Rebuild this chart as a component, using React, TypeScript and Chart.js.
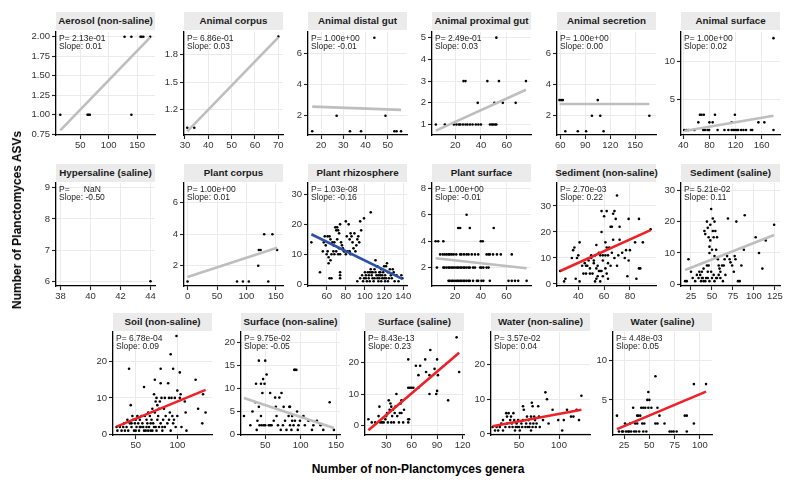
import React, { useEffect, useRef } from "react";
import { Chart, registerables } from "chart.js";

Chart.register(...registerables);

type Pt = [number, number];

// ---------- DATA ----------
const panelTitles = [
  "Aerosol (non-saline)", "Animal corpus", "Animal distal gut", "Animal proximal gut", "Animal secretion", "Animal surface",
  "Hypersaline (saline)", "Plant corpus", "Plant rhizosphere", "Plant surface", "Sediment (non-saline)", "Sediment (saline)",
  "Soil (non-saline)", "Surface (non-saline)", "Surface (saline)", "Water (non-saline)", "Water (saline)",
];

const pValues = [
  "2.13e-01", "6.86e-01", "1.00e+00", "2.49e-01", "1.00e+00", "1.00e+00",
  "     NaN", "1.00e+00", "1.03e-08", "1.00e+00", "2.70e-03", "5.21e-02",
  "6.78e-04", "9.75e-02", "8.43e-13", "3.57e-02", "4.48e-03",
];

const slopes = [
  "0.01", "0.03", "-0.01", "0.03", "0.00", "0.02",
  "-0.50", "0.01", "-0.16", "-0.01", "0.22", "0.11",
  "0.09", "-0.05", "0.23", "0.04", "0.05",
];

const xTickLabels = [
  ["50", "100", "150"], ["30", "40", "50", "60", "70"], ["20", "30", "40", "50"], ["20", "40", "60"], ["60", "90", "120", "150"], ["40", "80", "120", "160"],
  ["38", "40", "42", "44"], ["0", "50", "100", "150"], ["60", "80", "100", "120", "140"], ["20", "40", "60"], ["40", "60", "80"], ["25", "50", "75", "100", "125"],
  ["50", "100"], ["50", "100", "150"], ["30", "60", "90", "120"], ["50", "100"], ["25", "50", "75", "100"],
];

const yTickLabels = [
  ["0.75", "1.00", "1.25", "1.50", "1.75", "2.00"], ["1.2", "1.5", "1.8"], ["2", "4", "6"], ["1", "2", "3", "4", "5"], ["2", "4", "6"], ["5", "10"],
  ["6", "7", "8", "9"], ["2", "4", "6"], ["0", "10", "20", "30"], ["2", "4", "6", "8"], ["0", "10", "20", "30"], ["0", "10", "20", "30"],
  ["0", "10", "20"], ["0", "5", "10", "15", "20"], ["0", "10", "20"], ["0", "10", "20"], ["5", "10"],
];

const xLimits: Pt[] = [
  [7.5, 181.5], [29.6, 72], [14.1, 58.7], [2, 78.9], [56, 175], [36.5, 188],
  [37.7, 44.3], [-6, 162], [40.5, 143.9], [2.2, 78.9], [23.5, 100.2], [13.1, 131],
  [22.7, 141.7], [15.8, 155.6], [5, 121.7], [15, 138.75], [14.1, 111.9],
];

const yLimits: Pt[] = [
  [0.74, 2.06], [0.92, 2.05], [0.76, 7.37], [0.52, 5.26], [0.76, 7.37], [0.35, 13.8],
  [5.85, 9.15], [0.71, 7.25], [-0.57, 33.8], [0.61, 8.4], [-0.77, 38.8], [-0.54, 32.3],
  [-0.2, 28.1], [-0.1, 22.2], [-3, 29.7], [-0.3, 29.4], [0.55, 13.6],
];

const aerosolPts: Pt[] = [[15, 1], [63, 1], [65, 1], [67, 1], [140, 1], [128, 2], [140, 2], [156, 2], [158, 2], [161, 2], [173, 2]];
const aerosolFit: Pt[] = [[15, 0.8], [173, 1.99]];

const animalCorpusPts: Pt[] = [[31, 1], [34, 1], [70, 2]];
const animalCorpusFit: Pt[] = [[31, 0.96], [70, 1.99]];

const distalGutPts: Pt[] = [[16, 1], [27, 2], [33, 1], [38, 1], [44, 7], [49, 2], [53, 1], [54, 1], [56, 1]];
const distalGutFit: Pt[] = [[16, 2.58], [56, 2.37]];

const proximalGutPts: Pt[] = [
  [5, 1], [12, 1], [19, 1], [21, 1], [23, 1], [24, 1], [26, 1], [28, 1], [29.5, 1], [31.5, 1], [33.5, 1], [36, 1], [38, 1], [40, 1],
  [47, 1], [48.5, 1], [49.5, 1], [51, 1], [52, 1], [37.5, 2], [50.5, 2], [57, 2], [67, 2], [26.5, 3], [28, 3], [45, 3], [54, 3], [75, 3], [52, 5],
];
const proximalGutFit: Pt[] = [[5, 0.72], [75, 2.6]];

const secretionPts: Pt[] = [[59, 3], [61, 3], [63, 3], [66, 1], [81, 1], [91, 1], [98, 2], [105, 3], [108, 2], [112, 1], [167, 2]];
const secretionFit: Pt[] = [[59, 2.75], [167, 2.75]];

const animalSurfacePts: Pt[] = [
  [41.5, 1], [45, 1], [48, 1], [57, 1], [70.5, 1], [73, 1], [77, 1], [79.5, 1], [92.5, 1], [103, 1], [109, 1], [114, 1], [116.5, 1],
  [119, 1], [122, 1], [124, 1], [128.5, 1], [132, 1], [136, 1], [143.5, 1], [145.5, 1], [178, 1], [63, 2], [80, 2], [85, 2], [114, 2],
  [155, 2], [164, 2], [65.5, 3], [68, 3], [71.5, 3], [88.5, 3], [119, 3], [178, 13],
];
const animalSurfaceFit: Pt[] = [[41.5, 0.87], [178, 2.86]];

const hypersalinePts: Pt[] = [[44, 6]];
const hypersalineFit: Pt[] = [];

const plantCorpusPts: Pt[] = [[0, 1], [84, 1], [94, 1], [104, 1], [120, 2], [121, 3], [124, 3], [130, 4], [137, 1], [144, 4], [152, 3]];
const plantCorpusFit: Pt[] = [[0, 1.28], [152, 3.14]];

const rhizospherePts: Pt[] = [
  [44, 14], [53, 4], [56, 11], [57, 14], [58, 16], [59, 13], [60, 10], [61, 16], [61, 11], [62, 9], [62, 7], [63, 16], [63, 2], [64, 8],
  [64, 15], [65, 10], [65, 2], [66, 14], [67, 13], [67, 11], [68, 14], [68, 10], [69, 19], [70, 11], [70, 18], [71, 19], [71, 15], [72, 10],
  [72, 18], [73, 12], [73, 17], [74, 20], [74, 10], [74, 4], [74, 3], [74, 2], [75, 14], [76, 13], [77, 12], [78, 11], [79, 11], [80, 10],
  [80, 21], [81, 16], [82, 11], [83, 20], [84, 11], [84, 15], [85, 10], [85, 17], [86, 16], [87, 14], [88, 12], [89, 17], [90, 11], [91, 13],
  [92, 15], [92, 1], [93, 16], [94, 14], [95, 2], [95, 21], [96, 18], [97, 3], [98, 1], [99, 2], [99, 22], [100, 4], [101, 3], [101, 2],
  [102, 1], [103, 4], [104, 2], [104, 3], [105, 4], [105, 1], [106, 24], [106, 5], [107, 4], [107, 3], [108, 2], [108, 4], [109, 1], [110, 5],
  [110, 2], [111, 8], [111, 4], [112, 6], [112, 3], [113, 6], [113, 2], [114, 1], [114, 3], [115, 4], [115, 2], [116, 3], [116, 4], [117, 5],
  [117, 1], [118, 2], [118, 3], [119, 4], [120, 6], [120, 2], [121, 3], [121, 1], [122, 6], [122, 2], [123, 7], [124, 4], [124, 1], [125, 2],
  [126, 5], [127, 3], [128, 2], [129, 5], [130, 4], [131, 1], [133, 3], [135, 1], [138, 3], [139, 2],
];
const rhizosphereFit: Pt[] = [[44, 16.7], [139, 1.8]];

const plantSurfacePts: Pt[] = [
  [5, 4], [7, 4], [11, 4], [40, 4], [41.5, 4], [22.5, 5], [24, 5], [31.5, 5], [50, 5], [29, 6],
  [8.5, 3], [10.5, 3], [12, 3], [13.5, 3], [15, 3], [16, 3], [17.5, 3], [19, 3], [21, 3], [24, 3], [25, 3], [27, 3], [29, 3], [30.5, 3],
  [33, 3], [35.5, 3], [38, 3], [44.5, 3], [46, 3], [47, 3], [49.5, 3], [52.5, 3], [55.5, 3], [64, 3],
  [6, 2], [11, 2], [12, 2], [13.5, 2], [15, 2], [16, 2], [17.5, 2], [18.5, 2], [20, 2], [21.5, 2], [22.5, 2], [24, 2], [25, 2], [26.5, 2],
  [27.5, 2], [29, 2], [30.5, 2], [31.5, 2], [34, 2], [35.5, 2], [39.5, 2], [40.5, 2], [42, 2], [44.5, 2], [46, 2],
  [15, 1], [16, 1], [17.5, 1], [18.5, 1], [20, 1], [21.5, 1], [22.5, 1], [24, 1], [25, 1], [26.5, 1], [27.5, 1], [29, 1], [30.5, 1],
  [31.5, 1], [34, 1], [37, 1], [38, 1], [40.5, 1], [42, 1], [47, 1], [61.5, 1], [64, 1], [66.5, 1], [69, 1], [75.5, 1],
];
const plantSurfaceFit: Pt[] = [[5, 2.71], [75.5, 1.95]];

const sedimentNonSalinePts: Pt[] = [
  [26, 5], [29, 1], [30, 2], [35, 10], [36, 13], [37, 14], [38, 2], [39, 10], [40, 11], [41, 16], [41, 1], [43, 7], [44, 4], [45, 8],
  [46, 4], [46, 7], [47, 7], [48, 9], [49, 6], [49, 4], [50, 11], [50, 10], [51, 4], [52, 9], [52, 8], [53, 1], [53, 11], [54, 6],
  [54, 15], [54, 2], [55, 7], [55, 3], [56, 5], [56, 12], [57, 11], [57, 5], [57, 1], [58, 20], [58, 28], [58, 5], [59, 9], [59, 3],
  [59, 11], [60, 26], [61, 16], [61, 6], [61, 11], [62, 28], [62, 4], [62, 14], [63, 11], [63, 8], [63, 2], [64, 14], [65, 22], [65, 7],
  [66, 12], [66, 22], [67, 17], [67, 27], [68, 28], [68, 10], [69, 25], [70, 34], [70, 7], [71, 11], [72, 17], [72, 22], [74, 12],
  [76, 10], [77, 13], [78, 3], [79, 25], [79, 9], [80, 13], [84, 16], [85, 2], [87, 6], [87, 25], [88, 6], [90, 16], [96, 21],
];
const sedimentNonSalineFit: Pt[] = [[26, 5], [96, 20.7]];

const sedimentSalinePts: Pt[] = [
  [18, 1], [20, 1], [22, 8], [25, 4], [27, 2], [30, 1], [32, 3], [34, 2], [35, 4], [36, 3], [37, 1], [38, 2], [38, 4], [39, 2], [40, 1],
  [40, 5], [41, 17], [42, 16], [42, 1], [43, 2], [44, 20], [44, 6], [45, 18], [45, 2], [45, 4], [46, 15], [46, 6], [47, 12], [47, 10],
  [47, 1], [48, 19], [48, 14], [49, 4], [49, 24], [50, 11], [50, 2], [51, 21], [51, 17], [52, 15], [52, 3], [53, 9], [53, 20], [53, 1],
  [54, 17], [55, 11], [55, 2], [56, 15], [56, 2], [57, 8], [58, 6], [58, 3], [59, 5], [60, 4], [60, 2], [62, 6], [63, 1], [64, 6],
  [65, 8], [66, 3], [68, 9], [69, 21], [71, 8], [72, 7], [74, 6], [76, 4], [77, 9], [78, 8], [79, 20], [81, 1], [83, 1], [85, 6],
  [88, 11], [89, 22], [102, 15], [106, 10], [110, 5], [114, 14], [124, 19],
];
const sedimentSalineFit: Pt[] = [[18, 4.55], [124, 15.7]];

const soilPts: Pt[] = [
  [27, 2], [28, 1], [31, 2], [33, 1], [35, 2], [36, 3], [37, 1], [39, 2], [40, 4], [41, 1], [42, 18], [43, 3], [44, 8], [45, 2], [45, 3],
  [46, 5], [47, 4], [48, 1], [49, 3], [50, 4], [50, 1], [51, 2], [52, 5], [53, 3], [54, 1], [55, 4], [55, 2], [56, 2], [57, 5], [58, 3],
  [59, 2], [60, 13], [60, 1], [61, 5], [62, 1], [63, 4], [63, 2], [64, 3], [65, 6], [65, 1], [66, 2], [67, 5], [68, 1], [68, 3], [69, 4],
  [70, 7], [70, 1], [71, 3], [72, 11], [72, 2], [73, 15], [73, 6], [74, 9], [74, 2], [75, 10], [75, 1], [76, 8], [76, 4], [77, 5],
  [78, 7], [78, 2], [79, 9], [80, 18], [80, 14], [80, 3], [81, 10], [82, 2], [82, 1], [83, 4], [84, 7], [85, 10], [85, 2], [86, 5],
  [88, 3], [89, 14], [90, 10], [90, 4], [91, 6], [92, 22], [92, 1], [93, 10], [94, 5], [95, 18], [95, 3], [96, 4], [97, 10], [98, 2],
  [99, 27], [100, 12], [100, 5], [103, 17], [103, 10], [104, 11], [105, 2], [109, 9], [110, 6], [111, 1], [122, 15], [125, 7], [130, 3],
  [131, 11], [134, 6],
];
const soilFit: Pt[] = [[27, 2.1], [134, 12.2]];

const surfaceNonSalinePts: Pt[] = [
  [20, 4], [29, 2], [32, 5], [36, 7], [37, 11], [38, 1], [39, 3], [41, 16], [41, 6], [42, 2], [44, 11], [44, 4], [45, 2], [46, 9],
  [47, 12], [48, 2], [49, 11], [50, 16], [50, 2], [52, 13], [55, 2], [57, 2], [57, 9], [59, 2], [62, 3], [64, 8], [65, 6], [66, 4],
  [68, 2], [70, 8], [72, 1], [73, 9], [75, 2], [76, 6], [78, 3], [80, 1], [83, 4], [84, 6], [85, 6], [85, 2], [87, 1], [88, 3], [88, 4],
  [90, 2], [91, 14], [92, 14], [94, 14], [92, 3], [95, 5], [96, 1], [97, 2], [99, 3], [104, 4], [106, 2], [111, 3], [116, 1], [118, 2],
  [123, 3], [128, 2], [132, 1], [141, 7], [147, 1],
];
const surfaceNonSalineFit: Pt[] = [[20, 7.9], [147, 1.4]];

const surfaceSalinePts: Pt[] = [
  [9, 2], [13, 1], [17, 1], [21, 3], [22, 6], [23, 1], [25, 1], [27, 1], [29, 2], [30, 3], [31, 4], [32, 1], [33, 8], [34, 5], [35, 7],
  [36, 1], [36, 6], [37, 3], [38, 5], [39, 1], [40, 4], [41, 6], [42, 10], [43, 3], [45, 1], [46, 4], [47, 7], [48, 8], [48, 4],
  [50, 1], [51, 5], [56, 21], [56, 2], [56, 1], [57, 2], [56, 12], [58, 12], [60, 12], [62, 12], [65, 19], [68, 12], [70, 19], [68, 16],
  [76, 21], [77, 17], [81, 10], [81, 16], [82, 24], [87, 18], [89, 10], [90, 11], [90, 21], [91, 16], [103, 8], [113, 28], [116, 17],
];
const surfaceSalineFit: Pt[] = [[9, -1.5], [116, 23.1]];

const waterNonSalinePts: Pt[] = [
  [17, 2], [20, 1], [22, 2], [24, 1], [26, 2], [28, 3], [30, 4], [30, 1], [33, 2], [34, 6], [35, 3], [35, 5], [37, 6], [38, 2], [39, 4],
  [40, 5], [41, 3], [42, 2], [43, 6], [44, 4], [45, 1], [46, 2], [47, 3], [48, 2], [49, 4], [50, 2], [51, 1], [53, 3], [54, 2], [55, 4],
  [55, 8], [56, 7], [58, 2], [59, 3], [60, 5], [61, 2], [62, 4], [63, 2], [64, 3], [65, 1], [65, 5], [66, 9], [67, 2], [67, 8], [68, 3],
  [69, 5], [70, 4], [71, 2], [72, 3], [74, 8], [75, 5], [76, 2], [80, 4], [83, 12], [85, 10], [87, 3], [92, 7], [99, 4], [104, 1],
  [106, 4], [110, 7], [115, 5], [118, 5], [122, 7], [125, 4], [128, 11],
];
const waterNonSalineFit: Pt[] = [[17, 2.2], [128, 7.0]];

const waterSalinePts: Pt[] = [
  [18, 3], [20, 1], [23, 1], [24, 1], [26, 2], [27, 1], [29, 1], [30, 1], [31, 2], [32, 1], [34, 4], [35, 1], [36, 2], [37, 1], [38, 3],
  [38, 2], [39, 3], [40, 1], [41, 3], [42, 4], [43, 2], [44, 4], [44, 1], [45, 2], [46, 4], [47, 1], [48, 5], [49, 6], [49, 4], [50, 5],
  [52, 4], [56, 8], [56, 2], [58, 4], [58, 2], [60, 3], [65, 2], [70, 1], [72, 1], [74, 1], [77, 1], [85, 3], [87, 3], [87, 1], [94, 7],
  [94, 2], [106, 7],
];
const waterSalineFit: Pt[] = [[18, 1.3], [106, 6.05]];

const pointSets: Pt[][] = [
  aerosolPts, animalCorpusPts, distalGutPts, proximalGutPts, secretionPts, animalSurfacePts,
  hypersalinePts, plantCorpusPts, rhizospherePts, plantSurfacePts, sedimentNonSalinePts, sedimentSalinePts,
  soilPts, surfaceNonSalinePts, surfaceSalinePts, waterNonSalinePts, waterSalinePts,
];
const fitLines: Pt[][] = [
  aerosolFit, animalCorpusFit, distalGutFit, proximalGutFit, secretionFit, animalSurfaceFit,
  hypersalineFit, plantCorpusFit, rhizosphereFit, plantSurfaceFit, sedimentNonSalineFit, sedimentSalineFit,
  soilFit, surfaceNonSalineFit, surfaceSalineFit, waterNonSalineFit, waterSalineFit,
];

// ---------- LAYOUT / STYLE ----------
const FONT = '"Liberation Sans", Arial, Helvetica, sans-serif';
const GREY = "#BEBEBE";
const RED = "#EE2028";
const BLUE = "#2E4FA8";
const PLOT_W = 99;
const PLOT_H = 103;
const Y_AXIS_W = 34;
const X_AXIS_H = 20;
const PAD_TOP = 8;
const PAD_RIGHT = 14;
const CW = Y_AXIS_W + PLOT_W + PAD_RIGHT;
const CH = PAD_TOP + PLOT_H + X_AXIS_H;
const rowPlotTops = [32, 183, 332];
const rowStripTops = [12, 164, 313];
const rowLefts = [
  [56, 184, 308, 432, 557, 681],
  [56, 184, 308, 432, 557, 681],
  [113, 241, 365, 491, 613],
];

function panelPos(i: number) {
  const row = i < 6 ? 0 : i < 12 ? 1 : 2;
  const col = row === 0 ? i : row === 1 ? i - 6 : i - 12;
  return { left: rowLefts[row][col], top: rowPlotTops[row], stripTop: rowStripTops[row] };
}

function axisOptions(labels: string[], lim: Pt, horizontal: boolean) {
  const vals = labels.map(Number);
  return {
    type: "linear" as const,
    min: lim[0],
    max: lim[1],
    afterBuildTicks: (ax: any) => {
      ax.ticks = vals.map((v) => ({ value: v }));
    },
    afterFit: (ax: any) => {
      if (horizontal) ax.height = X_AXIS_H;
      else ax.width = Y_AXIS_W;
    },
    ticks: {
      callback: (_v: any, idx: number) => labels[idx],
      color: "#333333",
      font: { family: FONT, size: 9.5 },
      padding: horizontal ? 1 : 2,
      maxRotation: 0,
      minRotation: 0,
      autoSkip: false,
    },
    grid: {
      color: "#EBEBEB",
      lineWidth: 1,
      tickColor: "#222222",
      tickLength: 4,
      tickWidth: 1.1,
      drawTicks: true,
    },
    border: { color: "#000000", width: 1.3 },
  };
}

function Panel({ i }: { i: number }) {
  const ref = useRef<HTMLCanvasElement>(null);
  const { left, top } = panelPos(i);
  useEffect(() => {
    const canvas = ref.current;
    if (!canvas) return;
    const p = pValues[i];
    const s = slopes[i];
    const pNum = parseFloat(p);
    const sNum = parseFloat(s);
    const color = !isFinite(pNum) || pNum >= 0.05 ? GREY : sNum > 0 ? RED : BLUE;
    const datasets: any[] = [];
    if (fitLines[i].length) {
      datasets.push({
        data: fitLines[i].map(([x, y]) => ({ x, y })),
        showLine: true,
        borderColor: color,
        borderWidth: 2.6,
        pointRadius: 0,
        order: 0,
      });
    }
    datasets.push({
      data: pointSets[i].map(([x, y]) => ({ x, y })),
      showLine: false,
      pointRadius: 1.3,
      pointBorderWidth: 0,
      pointBackgroundColor: "#000000",
      backgroundColor: "#000000",
      borderColor: "#000000",
      order: 1,
    });
    const annot = {
      id: "annot" + i,
      afterDraw(chart: any) {
        const { ctx, chartArea } = chart;
        ctx.save();
        ctx.font = `8.5px ${FONT}`;
        ctx.fillStyle = "#222222";
        ctx.textBaseline = "middle";
        ctx.textAlign = "left";
        ctx.fillText(`P= ${p}`, chartArea.left + 3, chartArea.top + 7);
        ctx.fillText(`Slope: ${s}`, chartArea.left + 3, chartArea.top + 14.7);
        ctx.restore();
      },
    };
    const chart = new Chart(canvas, {
      type: "scatter",
      data: { datasets },
      options: {
        animation: false,
        responsive: false,
        maintainAspectRatio: false,
        events: [],
        layout: { padding: { top: PAD_TOP, right: PAD_RIGHT, left: 0, bottom: 0 } },
        plugins: { legend: { display: false }, tooltip: { enabled: false } },
        scales: {
          x: axisOptions(xTickLabels[i], xLimits[i], true) as any,
          y: axisOptions(yTickLabels[i], yLimits[i], false) as any,
        },
      },
      plugins: [annot],
    });
    return () => chart.destroy();
  }, [i]);
  return (
    <canvas
      ref={ref}
      width={CW}
      height={CH}
      style={{ position: "absolute", left: left - Y_AXIS_W, top: top - PAD_TOP, width: CW, height: CH }}
    />
  );
}

function Strip({ i }: { i: number }) {
  const { left, stripTop } = panelPos(i);
  return (
    <div
      style={{
        position: "absolute",
        left,
        top: stripTop,
        width: PLOT_W,
        height: 18,
        lineHeight: "18px",
        background: "#EBEBEB",
        color: "#1A1A1A",
        fontFamily: FONT,
        fontWeight: "bold",
        fontSize: 9.8,
        textAlign: "center",
        whiteSpace: "nowrap",
        display: "flex",
        justifyContent: "center",
      }}
    >
      {panelTitles[i]}
    </div>
  );
}

export default function App() {
  return (
    <div
      style={{
        position: "absolute",
        left: 0,
        top: 0,
        width: 796,
        height: 485,
        background: "#FFFFFF",
        overflow: "hidden",
        fontFamily: FONT,
      }}
    >
      {panelTitles.map((_, i) => (
        <Strip key={"s" + i} i={i} />
      ))}
      {panelTitles.map((_, i) => (
        <Panel key={"p" + i} i={i} />
      ))}
      <div
        style={{
          position: "absolute",
          left: 17,
          top: 220,
          transform: "translate(-50%, -50%) rotate(-90deg)",
          whiteSpace: "nowrap",
          fontWeight: "bold",
          fontSize: 12,
          color: "#000",
        }}
      >
        Number of Planctomyces ASVs
      </div>
      <div
        style={{
          position: "absolute",
          left: 418,
          top: 469,
          transform: "translate(-50%, -50%)",
          whiteSpace: "nowrap",
          fontWeight: "bold",
          fontSize: 12,
          color: "#000",
        }}
      >
        Number of non-Planctomyces genera
      </div>
    </div>
  );
}
